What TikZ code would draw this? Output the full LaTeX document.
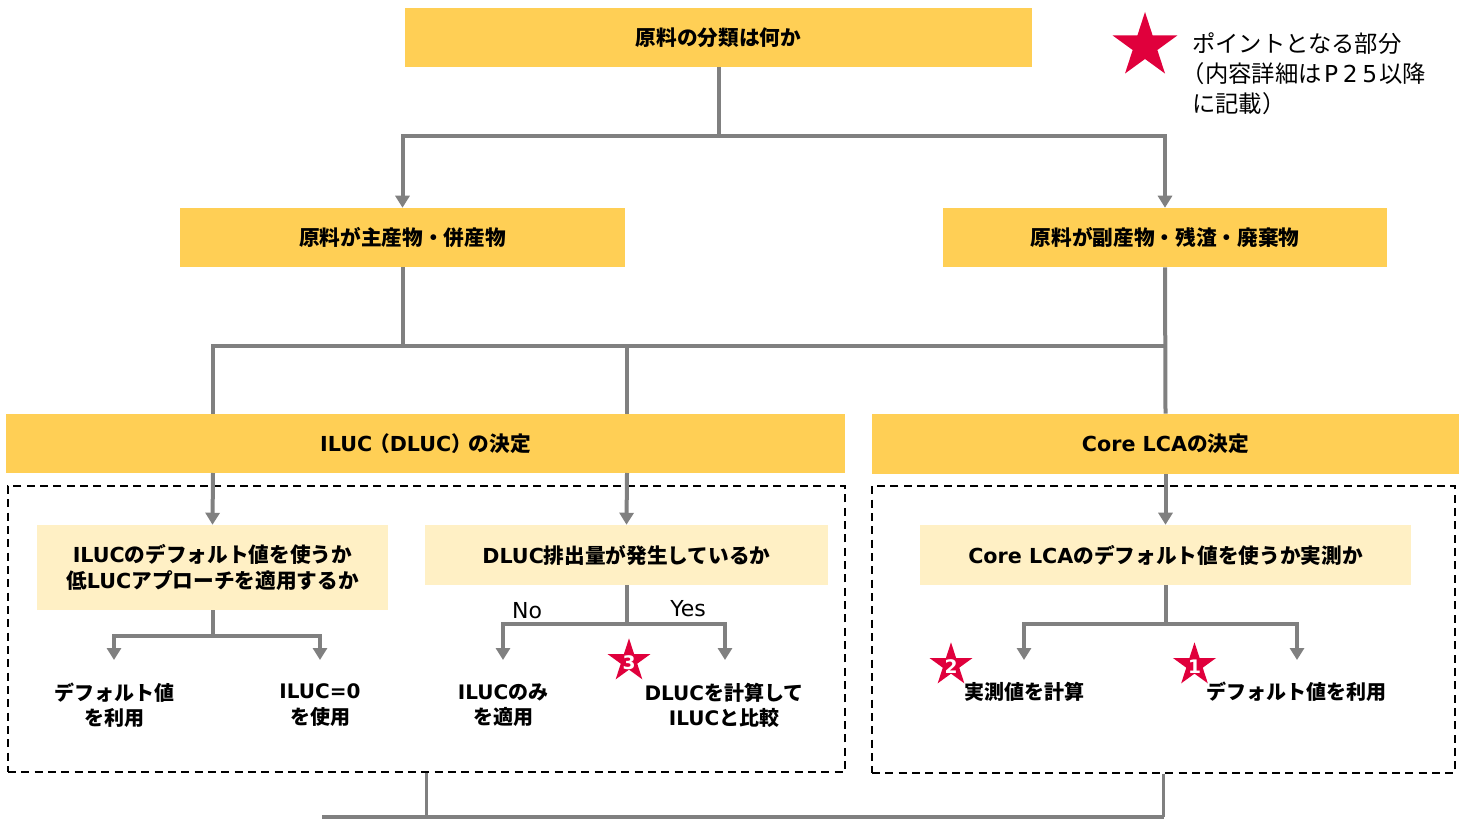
\documentclass[tikz,border=0pt]{standalone}
\usepackage{fontspec}
\setmainfont{Noto Sans CJK JP}
\newfontfamily\latf{DejaVu Sans}
\newcommand\lw[1]{{\latf #1}}
\usetikzlibrary{shapes.geometric,arrows.meta,calc}
\definecolor{ybox}{HTML}{FFCF55}
\definecolor{lbox}{HTML}{FFF0C5}
\definecolor{conn}{HTML}{808080}
\definecolor{starred}{HTML}{E0003C}
\begin{document}
\begin{tikzpicture}[x=0.75pt,y=-0.75pt,
  ybox/.style={fill=ybox, inner sep=0pt, font=\bfseries\fontsize{15.5}{19}\selectfont},
  lbox/.style={fill=lbox, inner sep=0pt, align=center, font=\bfseries\fontsize{15.5}{19}\selectfont},
  dbox/.style={draw=black, line width=1.2pt, dash pattern=on 6pt off 4pt, inner sep=0pt},
  leaf/.style={align=center, inner sep=0pt, font=\bfseries\fontsize{15}{19}\selectfont},
  lab/.style={inner sep=0pt, font=\fontsize{16.5}{19}\selectfont},
  line/.style={draw=conn, line width=3pt},
  thinline/.style={draw=conn, line width=1.6pt},
  arr/.style={line, -{Triangle[width=10.5pt,length=9pt]}},
  bigstar/.style={star, star points=5, star point ratio=2.618, fill=starred, inner sep=0pt, minimum size=51pt},
  smallstar/.style={star, star points=5, star point ratio=2.618, fill=starred, inner sep=0pt, minimum size=34pt},
  starnum/.style={inner sep=0pt, text=white, font=\latf\bfseries\fontsize{14}{14}\selectfont},
  legend/.style={anchor=west, inner sep=0pt, font=\fontsize{17.5}{22.5}\selectfont, align=left}
]
\useasboundingbox (0,0) rectangle (1466,820);
\clip (0,0) rectangle (1466,820);
\fill[white] (0,0) rectangle (1466,820);

% main boxes
\node[ybox, minimum width=627*0.75pt, minimum height=59*0.75pt] (top) at (718.5,37.5) {原料の分類は何か};
\node[ybox, minimum width=445*0.75pt, minimum height=59*0.75pt] (l2a) at (402.5,237.5) {原料が主産物・併産物};
\node[ybox, minimum width=444*0.75pt, minimum height=59*0.75pt] (l2b) at (1165,237.5) {原料が副産物・残渣・廃棄物};
\node[ybox, minimum width=839*0.75pt, minimum height=59*0.75pt] (iluc) at (425.5,443.5) {\lw{ILUC}\kern-0.15em（\lw{DLUC}）\kern-0.15emの決定};
\node[ybox, minimum width=587*0.75pt, minimum height=60*0.75pt] (core) at (1165.5,444) {\lw{Core LCA}の決定};

% dashed groups
\node[dbox, minimum width=837*0.75pt, minimum height=286*0.75pt] (dl) at (426.5,629) {};
\node[dbox, minimum width=583*0.75pt, minimum height=287*0.75pt] (dr) at (1163.5,629.5) {};

% light boxes
\node[lbox, minimum width=351*0.75pt, minimum height=85*0.75pt] (qa) at (212.5,567.5) {\lw{ILUC}のデフォルト値を使うか\\低\lw{LUC}アプローチを適用するか};
\node[lbox, minimum width=403*0.75pt, minimum height=60*0.75pt] (qb) at (626.5,555) {\lw{DLUC}排出量が発生しているか};
\node[lbox, minimum width=491*0.75pt, minimum height=60*0.75pt] (qc) at (1165.5,555) {\lw{Core LCA}のデフォルト値を使うか実測か};

% leaves
\node[leaf] (t1) at (114,705) {デフォルト値\\を利用};
\node[leaf] (t2) at (320,705) {\lw{ILUC=0}\\を使用};
\node[leaf] (t3) at (503,705) {\lw{ILUC}のみ\\を適用};
\node[leaf] (t4) at (724,705) {\lw{DLUC}を計算して\\\lw{ILUC}と比較};
\node[leaf] (t5) at (1024,692) {実測値を計算};
\node[leaf] (t6) at (1296.5,692) {デフォルト値を利用};

\node[lab] (no) at (527,611) {\lw{No}};
\node[lab] (yes) at (688,609) {\lw{Yes}};

% junction coordinates
\coordinate (j1) at (718.5,136);
\coordinate (j2) at (402.5,346);
\coordinate (j3) at (1165,346);
\coordinate (j4) at (213,346);
\coordinate (j5) at (627,346);
\coordinate (iL) at (213,414);
\coordinate (iR) at (627,414);
\coordinate (iL2) at (213,473);
\coordinate (iR2) at (627,473);
\coordinate (ja) at (212.5,636);
\coordinate (jb) at (626.5,624);
\coordinate (jc) at (1165.5,624);
\coordinate (e1) at (114,660);
\coordinate (e2) at (320,660);
\coordinate (e3) at (503,660);
\coordinate (e4) at (725,660);
\coordinate (e5) at (1024,660);
\coordinate (e6) at (1297,660);
\coordinate (b1) at (426.5,817);
\coordinate (b2) at (1163.5,817);
\coordinate (b0) at (322,817);

% connectors
\draw[line] (top.south) -- (j1);
\draw[arr] (j1) -| (l2a.north);
\draw[arr] (j1) -| (l2b.north);
\draw[line] (l2a.south) -- (j2);
\draw[line] (l2b.south) -- (core.north);
\draw[line] (j3) -- (j4) -- (iL);
\draw[line] (j5) -- (iR);
\draw[arr] (iL2) -- (qa.north);
\draw[arr] (iR2) -- (qb.north);
\draw[arr] (core.south) -- (qc.north);
\draw[line] (qa.south) -- (ja);
\draw[arr] (ja) -| (e1);
\draw[arr] (ja) -| (e2);
\draw[line] (qb.south) -- (jb);
\draw[arr] (jb) -| (e3);
\draw[arr] (jb) -| (e4);
\draw[line] (qc.south) -- (jc);
\draw[arr] (jc) -| (e5);
\draw[arr] (jc) -| (e6);
\draw[thinline] (dl.south) -- (b1);
\draw[thinline] (dr.south) -- (b2);
\draw[line] (b0) -- (b2);

% stars
\node[smallstar] (s3) at (629,661) {};
\node[starnum] (n3) at (629,663) {3};
\node[smallstar] (s2) at (951,665) {};
\node[starnum] (n2) at (951,667) {2};
\node[smallstar] (s1) at (1194.5,665) {};
\node[starnum] (n1) at (1194.5,667) {1};

% legend
\node[bigstar] (lstar) at (1145,46) {};
\node[legend] (ltext) at (1192,74) {ポイントとなる部分\\\kern-0.45em（内容詳細は{\latf\kern0.1em P\kern0.2em 2\kern0.2em 5\kern0.1em}以降\\に記載）};
\end{tikzpicture}
\end{document}
